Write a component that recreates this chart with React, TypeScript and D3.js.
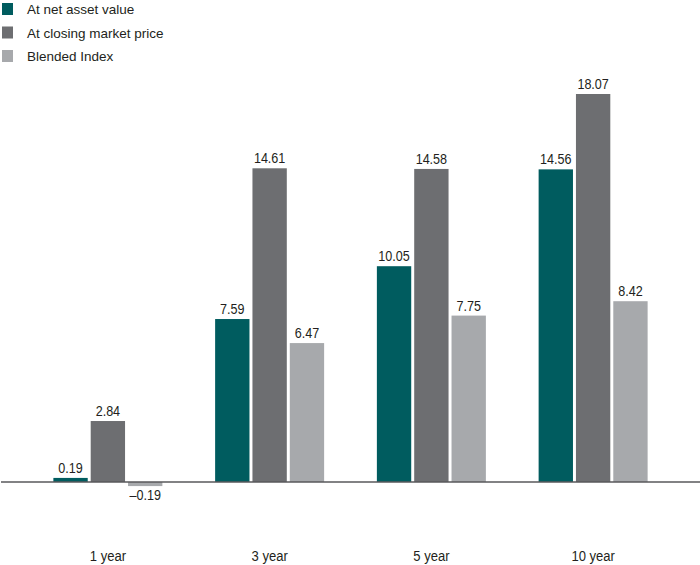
import React from "react";
import * as d3 from "d3";

const categories = ["1 year", "3 year", "5 year", "10 year"];
const seriesNames = ["At net asset value", "At closing market price", "Blended Index"];
const navValues = [0.19, 7.59, 10.05, 14.56];
const marketValues = [2.84, 14.61, 14.58, 18.07];
const indexValues = [-0.19, 6.47, 7.75, 8.42];
const labelText = [
  ["0.19", "7.59", "10.05", "14.56"],
  ["2.84", "14.61", "14.58", "18.07"],
  ["\u20130.19", "6.47", "7.75", "8.42"],
];
const colors = ["#005c5f", "#6d6e71", "#a7a9ac"];

const W = 700;
const H = 565;

export default function App() {
  const series = [navValues, marketValues, indexValues];
  const x0 = d3.scaleBand<string>().domain(categories).range([27, 674]).padding(0);
  const groupW = 109;
  const off = (x0.bandwidth() - groupW) / 2;
  const x1 = d3
    .scaleBand<string>()
    .domain(seriesNames)
    .range([off, off + groupW])
    .paddingInner(0.08)
    .paddingOuter(0);
  const y = d3.scaleLinear().domain([0, 18.07]).range([482, 94]);
  const font = "'Liberation Sans', Arial, sans-serif";

  return (
    <svg width={W} height={H} style={{ position: "absolute", left: 0, top: 0, background: "#fff" }}>
      {seriesNames.map((s, i) => (
        <g key={s} transform={`translate(0, ${i * 23.5})`}>
          <rect x={2} y={3} width={11} height={12} fill={colors[i]} />
          <text x={27} y={14} fontFamily={font} fontSize={13.5} fill="#231f20">
            {s}
          </text>
        </g>
      ))}
      {categories.map((c, ci) => (
        <g key={c} transform={`translate(${x0(c)}, 0)`}>
          {series.map((vals, si) => {
            const v = vals[ci];
            const bx = x1(seriesNames[si])!;
            const top = Math.min(y(v), y(0));
            const h = Math.abs(y(v) - y(0));
            const ly = v >= 0 ? y(v) - 5 : y(0) + 18;
            return (
              <g key={si}>
                <rect x={bx} y={top} width={x1.bandwidth()} height={h} fill={colors[si]} />
                <text
                  transform={`translate(${bx + x1.bandwidth() / 2}, ${ly}) scale(0.9, 1)`}
                  textAnchor="middle"
                  fontFamily={font}
                  fontSize={14}
                  fill="#231f20"
                >
                  {labelText[si][ci]}
                </text>
              </g>
            );
          })}
          <text
            transform={`translate(${x0.bandwidth() / 2}, 561) scale(0.9, 1)`}
            textAnchor="middle"
            fontFamily={font}
            fontSize={14.5}
            fill="#231f20"
          >
            {c}
          </text>
        </g>
      ))}
      <line x1={1} x2={700} y1={y(0)} y2={y(0)} stroke="#58595b" strokeWidth={1.5} />
    </svg>
  );
}
